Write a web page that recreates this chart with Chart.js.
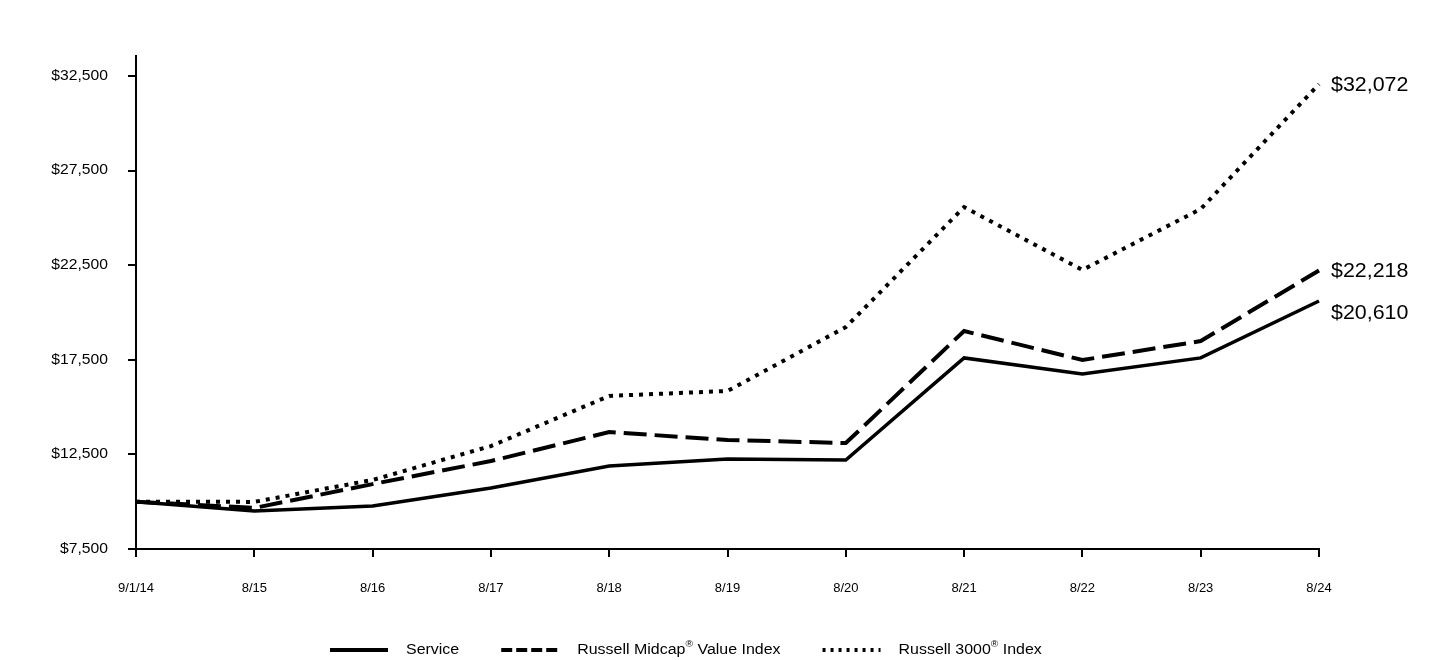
<!DOCTYPE html>
<html>
<head>
<meta charset="utf-8">
<script src="https://cdn.jsdelivr.net/npm/chart.js@4/dist/chart.umd.min.js"></script>
<style>
  html, body { margin: 0; padding: 0; background: #fff; }
  #wrap { width: 1440px; height: 660px; position: relative; }
</style>
</head>
<body>
<div id="wrap"><canvas id="c" width="1440" height="660"></canvas></div>
<script>
const categories = ['9/1/14', '8/15', '8/16', '8/17', '8/18', '8/19', '8/20', '8/21', '8/22', '8/23', '8/24'];
const serviceValues = [10000, 9510, 9770, 10720, 11890, 12260, 12200, 17600, 16750, 17600, 20610];
const midcapValues = [10000, 9670, 10930, 12150, 13680, 13260, 13100, 19020, 17490, 18490, 22218];
const r3000Values = [10000, 9990, 11150, 12940, 15590, 15850, 19230, 25570, 22250, 25470, 32072];
const yTickValues = [7500, 12500, 17500, 22500, 27500, 32500];
const seriesNames = ['Service', 'Russell Midcap\u00AE Value Index', 'Russell 3000\u00AE Index'];
const endLabels = ['$20,610', '$22,218', '$32,072'];

const FONT = '"Liberation Sans", Arial, sans-serif';
const endLabelDy = [13, 1, 1];
const legendStyle = [
  { dash: [], lw: 4 },
  { dash: [11, 4], lw: 4 },
  { dash: [3, 5], lw: 4 }
];

function fillStretched(ctx, text, x, y, sx, align) {
  ctx.save();
  ctx.translate(x, y);
  ctx.scale(sx, 1);
  ctx.textAlign = align;
  ctx.fillText(text, 0, 0);
  ctx.restore();
}

const yLabelPlugin = {
  id: 'yLabels',
  afterDraw(chart) {
    const ctx = chart.ctx;
    const ys = chart.scales.y;
    ctx.save();
    ctx.font = '14px ' + FONT;
    ctx.fillStyle = '#000';
    ctx.textBaseline = 'middle';
    ys.ticks.forEach(t => {
      const py = ys.getPixelForValue(t.value);
      fillStretched(ctx, '$' + Number(t.value).toLocaleString('en-US'), ys.right - 28, py, 1.12, 'right');
    });
    ctx.restore();
  }
};

const endLabelPlugin = {
  id: 'endLabels',
  afterDatasetsDraw(chart) {
    const ctx = chart.ctx;
    ctx.save();
    ctx.font = '20px ' + FONT;
    ctx.fillStyle = '#000';
    ctx.textBaseline = 'middle';
    chart.data.datasets.forEach((ds, i) => {
      const meta = chart.getDatasetMeta(i);
      const pt = meta.data[meta.data.length - 1];
      fillStretched(ctx, endLabels[i], pt.x + 12, pt.y + endLabelDy[i], 1.07, 'left');
    });
    ctx.restore();
  }
};

function drawLegendText(ctx, text, x, y, sx) {
  const parts = text.split('\u00AE');
  ctx.save();
  ctx.translate(x, y);
  ctx.scale(sx, 1);
  ctx.textAlign = 'left';
  let lx = 0;
  parts.forEach((p, i) => {
    ctx.font = '14px ' + FONT;
    ctx.fillText(p, lx, 0);
    lx += ctx.measureText(p).width;
    if (i < parts.length - 1) {
      ctx.font = '9px ' + FONT;
      ctx.fillText('\u00AE', lx, -5);
      lx += ctx.measureText('\u00AE').width;
    }
  });
  ctx.restore();
  return lx * sx;
}

const legendPlugin = {
  id: 'customLegend',
  afterDraw(chart) {
    const ctx = chart.ctx;
    ctx.save();
    ctx.textBaseline = 'middle';
    const y = 650;
    const lineW = 58, gapText = 18, gapItem = 42;
    let x = 330;
    seriesNames.forEach((n, i) => {
      const st = legendStyle[i];
      ctx.beginPath();
      ctx.setLineDash(st.dash);
      ctx.lineWidth = st.lw;
      ctx.strokeStyle = '#000';
      ctx.moveTo(x, y);
      ctx.lineTo(x + lineW, y);
      ctx.stroke();
      ctx.setLineDash([]);
      ctx.fillStyle = '#000';
      const w = drawLegendText(ctx, n, x + lineW + gapText, y, 1.14);
      x += lineW + gapText + w + gapItem;
    });
    ctx.restore();
  }
};

new Chart(document.getElementById('c'), {
  type: 'line',
  data: {
    labels: categories,
    datasets: [
      { label: seriesNames[0], data: serviceValues, borderColor: '#000', borderWidth: 3.5, borderDash: [], pointRadius: 0, tension: 0, clip: false },
      { label: seriesNames[1], data: midcapValues, borderColor: '#000', borderWidth: 4, borderDash: [23, 8], pointRadius: 0, tension: 0, clip: false },
      { label: seriesNames[2], data: r3000Values, borderColor: '#000', borderWidth: 4, borderDash: [4, 6], pointRadius: 0, tension: 0, clip: false }
    ]
  },
  options: {
    responsive: false,
    animation: false,
    devicePixelRatio: 1,
    layout: { padding: { left: 0, right: 121, top: 56, bottom: 61 } },
    plugins: { legend: { display: false }, tooltip: { enabled: false } },
    scales: {
      x: {
        type: 'category',
        offset: false,
        grid: { display: true, drawOnChartArea: false, drawTicks: true, tickLength: 8, color: '#000', lineWidth: 2 },
        border: { display: true, color: '#000', width: 2 },
        ticks: { color: '#000', font: { family: FONT, size: 13 }, padding: 24, maxRotation: 0, autoSkip: false },
        afterFit(scale) { scale.height = 50; }
      },
      y: {
        min: 7500,
        max: 33557,
        afterBuildTicks(scale) { scale.ticks = yTickValues.map(v => ({ value: v })); },
        grid: { display: true, drawOnChartArea: false, drawTicks: true, tickLength: 8, color: '#000', lineWidth: 2 },
        border: { display: true, color: '#000', width: 2 },
        ticks: { display: false },
        afterFit(scale) { scale.width = 136; }
      }
    }
  },
  plugins: [yLabelPlugin, endLabelPlugin, legendPlugin]
});
</script>
</body>
</html>
